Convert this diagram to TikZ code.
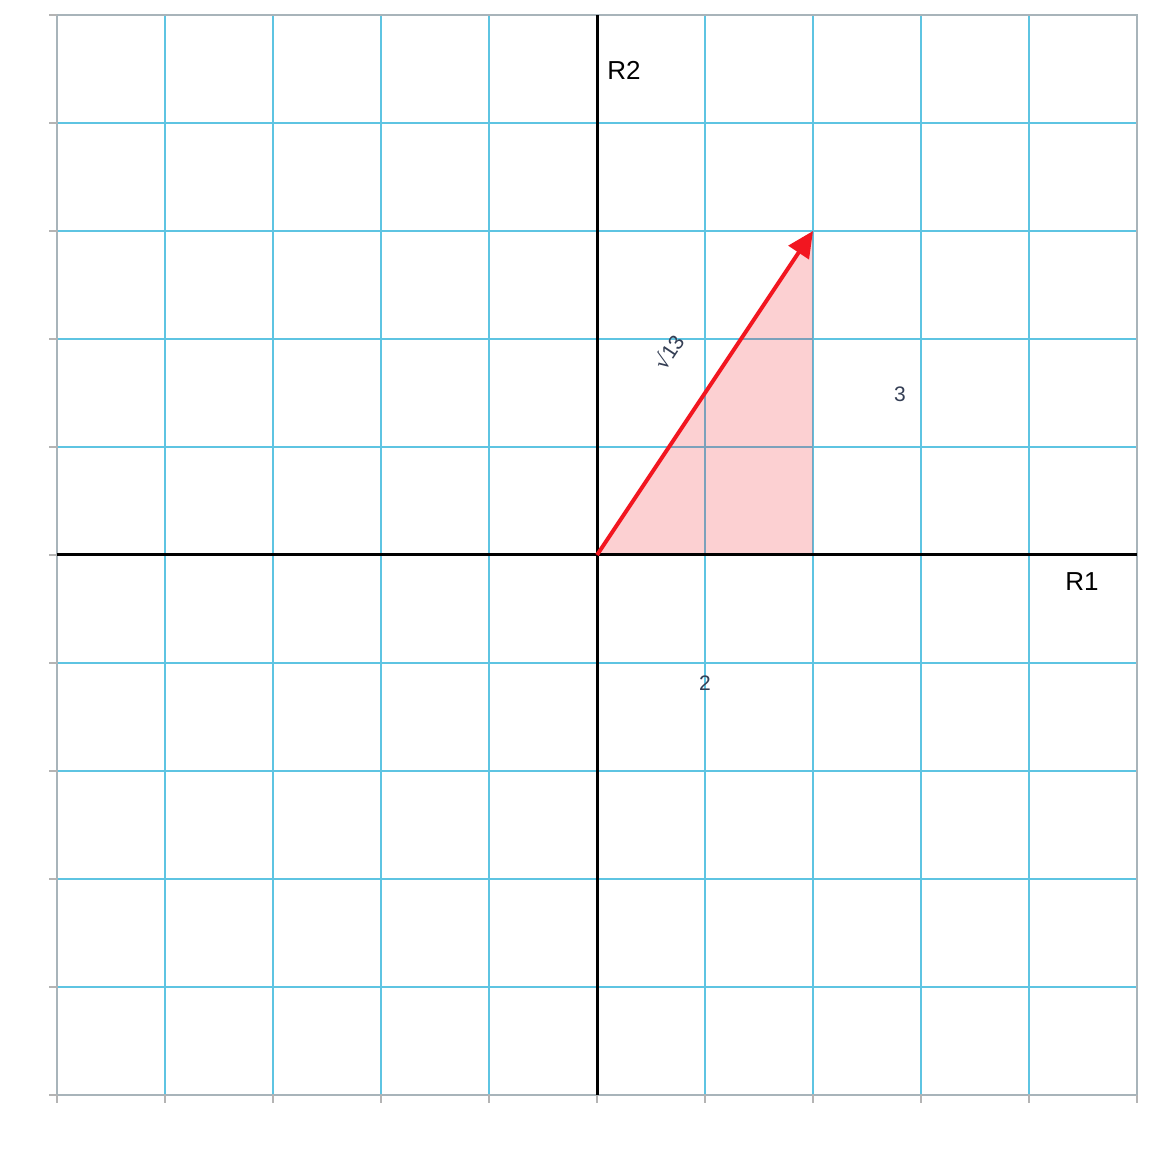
\documentclass[tikz,border=0pt]{standalone}
\usepackage{fontspec}
\setmainfont{Liberation Sans}
\newfontfamily\symfont{DejaVu Sans}
\usetikzlibrary{arrows.meta}
\definecolor{gridcyan}{RGB}{94,196,226}
\definecolor{framegray}{RGB}{168,180,186}
\definecolor{tickgray}{RGB}{180,180,180}
\definecolor{vecred}{RGB}{242,22,32}
\definecolor{lblslate}{RGB}{52,62,84}
\tikzset{
  gridline/.style={draw=gridcyan, line width=0.55pt},
  frameline/.style={draw=framegray, line width=0.8pt},
  tickline/.style={draw=tickgray, line width=0.6pt},
  axisline/.style={draw=black, line width=1.5pt},
  vecline/.style={draw=vecred, line width=2pt, -{Triangle[length=13pt,width=12pt]}},
  axislabel/.style={font=\fontsize{13pt}{15pt}\selectfont, text=black, inner sep=0pt},
  numlabel/.style={font=\fontsize{10.5pt}{12pt}\selectfont, text=lblslate, inner sep=0pt},
}
\begin{document}
\begin{tikzpicture}[x=54pt, y=54pt]
\useasboundingbox (-5.5278,-5.5278) rectangle (5.1389,5.1389);
\fill[white] (-5.5278,-5.5278) rectangle (5.1389,5.1389);
% grid
\foreach \i in {-4,...,4} {
  \draw[gridline] (\i,-5) -- (\i,5);
  \draw[gridline] (-5,\i) -- (5,\i);
}
% frame
\draw[frameline] (-5,-5) rectangle (5,5);
% ticks
\foreach \i in {-5,...,5} {
  \draw[tickline] (-5,\i) -- (-5.07,\i);
  \draw[tickline] (\i,-5) -- (\i,-5.07);
}
% coordinates
\coordinate (O) at (0,0);
\coordinate (P) at (2,3);
\coordinate (Q) at (2,0);
% triangle
\fill[vecred, opacity=0.2] (O) -- (P) -- (Q) -- cycle;
% axes
\draw[axisline] (-5,0) -- (5,0);
\draw[axisline] (0,-5) -- (0,5);
% vector
\draw[vecline] (O) -- (P);
% labels
\node[axislabel] (r2) at (0.25,4.49) {R2};
\node[axislabel] (r1) at (4.49,-0.25) {R1};
\node[numlabel] (l3) at (2.806,1.49) {3};
\node[numlabel] (l2) at (1.0,-1.185) {2};
\node[numlabel, rotate=56.3] (l13) at (0.66,1.88) {{\symfont √}13};
\end{tikzpicture}
\end{document}
